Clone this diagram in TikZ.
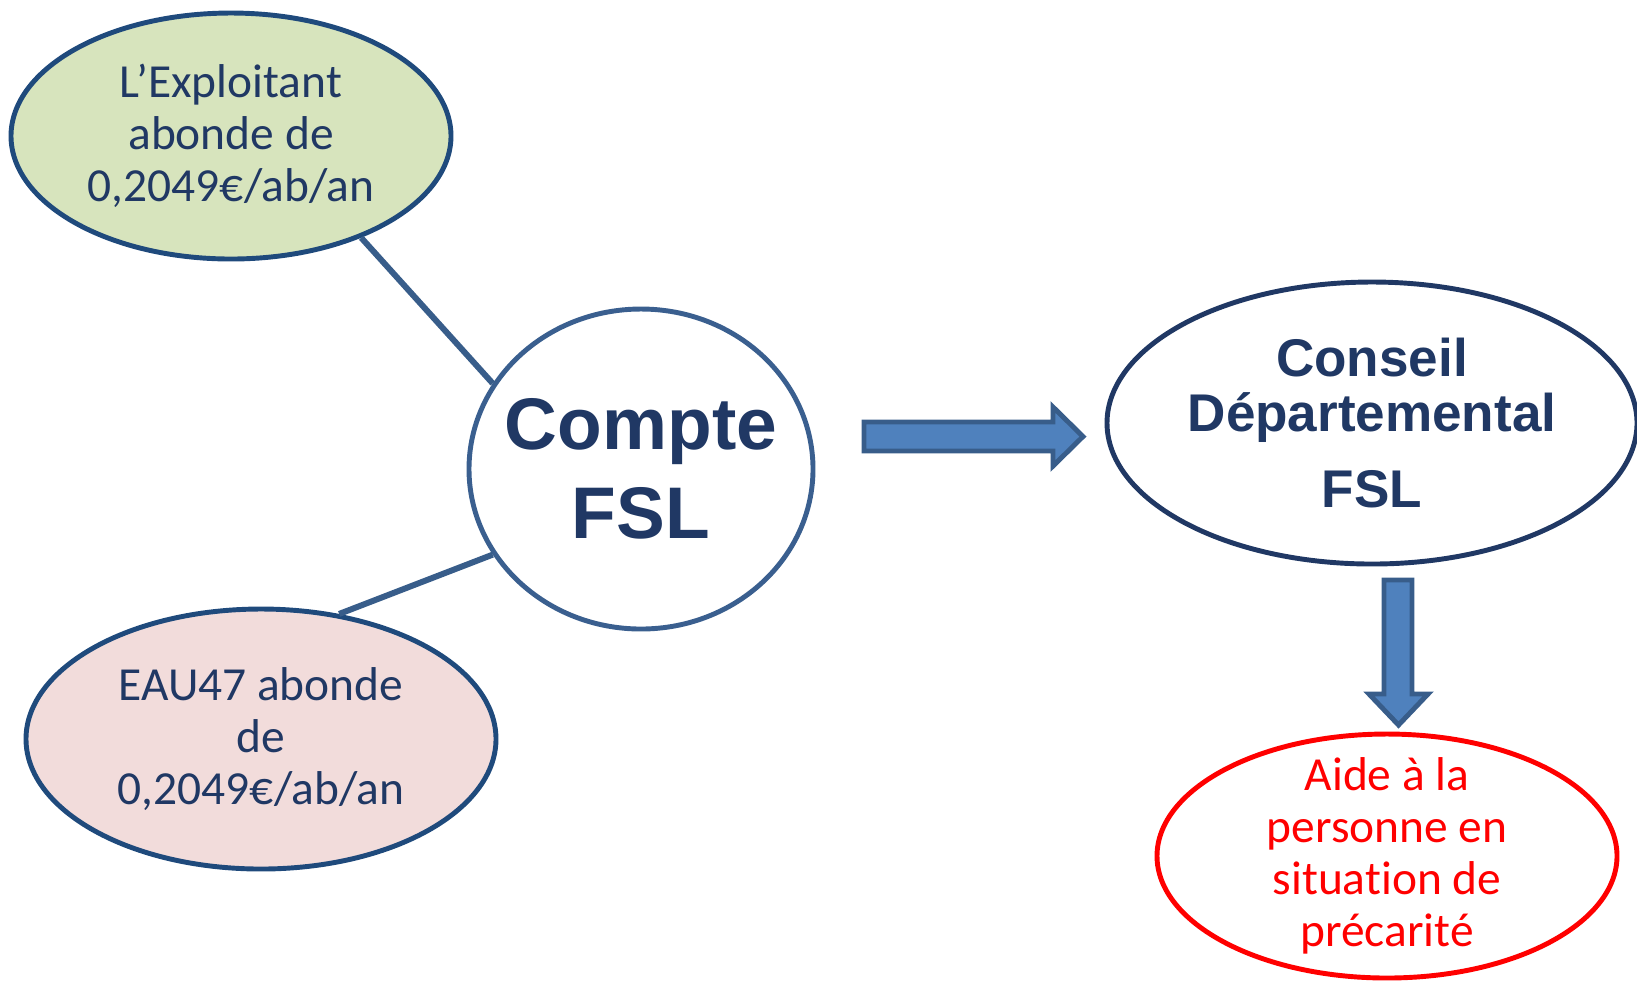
\documentclass[tikz,border=0pt]{standalone}
\usepackage{fontspec}
\setmainfont{Carlito}[Ligatures=NoCommon]
\newfontfamily\arialfont{Liberation Sans}
\usetikzlibrary{shapes.geometric}

\definecolor{navytext}{HTML}{203864}
\definecolor{navyline}{HTML}{1F4A7C}
\definecolor{ringline}{HTML}{3A5F8F}
\definecolor{blockfill}{HTML}{4F81BD}
\definecolor{blockline}{HTML}{385D8A}
\definecolor{greenfill}{HTML}{D7E4BD}
\definecolor{pinkfill}{HTML}{F2DCDB}

\begin{document}
\begin{tikzpicture}[
    bubble/.style={draw=navyline, ellipse, line width=1.4pt, inner sep=-0.5cm,
                   align=center, text=navytext, font=\fontsize{13.5}{14.8}\selectfont},
    bigbubble/.style={draw=navyline, ellipse, line width=1.4pt, inner sep=-0.5cm,
                      align=center, text=navytext},
    link/.style={draw=blockline, line width=1.7pt},
    block/.style={fill=blockfill, draw=blockline, line width=1.4pt, line join=miter}
  ]
    \useasboundingbox (0,0) rectangle (16.37,-9.80);

    % Sources
    \node[bubble, fill=greenfill, minimum width=4.40cm, minimum height=2.46cm]
      (expl) at (2.31,-1.36) {L’Exploitant\\abonde de\\0,2049€/ab/an};
    \node[bubble, fill=pinkfill, minimum width=4.70cm, minimum height=2.60cm]
      (eau) at (2.61,-7.39) {EAU47 abonde\\de\\0,2049€/ab/an};

    % Centre
    \node[bigbubble, draw=ringline, fill=white, minimum width=3.44cm, minimum height=3.20cm,
          font=\arialfont\bfseries\fontsize{20.8}{25.2}\selectfont]
      (compte) at (6.41,-4.69) {Compte\\FSL};

    % Right side
    \node[bigbubble, draw=navytext, fill=white, minimum width=5.30cm, minimum height=2.82cm,
          font=\arialfont\bfseries\fontsize{15.1}{15.7}\selectfont]
      (conseil) at (13.72,-4.23) {Conseil\\Départemental\\[6pt]FSL};
    \node[bubble, draw=red, text=red, fill=white, minimum width=4.60cm, minimum height=2.44cm]
      (aide) at (13.87,-8.56) {Aide à la\\personne en\\situation de\\précarité};

    % Links
    \draw[link] (expl.-38) -- (compte.150);
    \draw[link] (eau.58) -- (compte.-150);

    % Block arrows
    \draw[block] (8.64,-4.22) -- (10.53,-4.22) -- (10.53,-4.07) -- (10.83,-4.365)
      -- (10.53,-4.66) -- (10.53,-4.51) -- (8.64,-4.51) -- cycle;
    \draw[block] (13.84,-5.80) -- (13.84,-6.94) -- (13.69,-6.94) -- (13.985,-7.25)
      -- (14.28,-6.94) -- (14.12,-6.94) -- (14.12,-5.80) -- cycle;
\end{tikzpicture}
\end{document}
